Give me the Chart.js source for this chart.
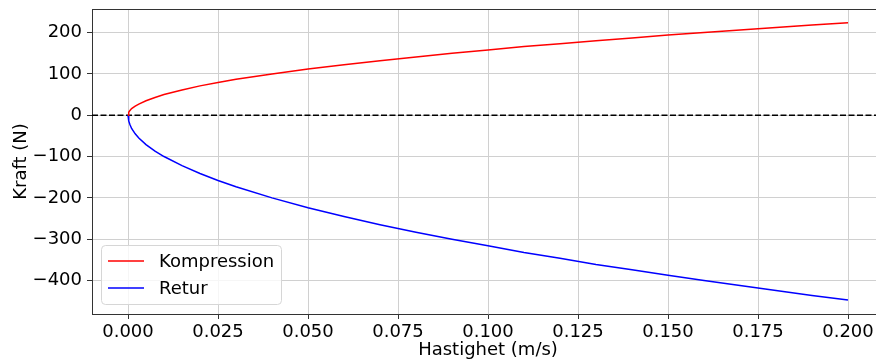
<!DOCTYPE html>
<html>
<head>
<meta charset="utf-8">
<script src="https://cdn.jsdelivr.net/npm/chart.js@4"></script>
<style>
  html, body { margin: 0; padding: 0; background: #fff; overflow: hidden; }
  #wrap { width: 886px; height: 362px; }
</style>
</head>
<body>
<div id="wrap"><canvas id="forceChart" width="886" height="362"></canvas></div>
<script>
// Kraft mot hastighet - kompression och retur

const velocity = [0, 0.0002, 0.0005, 0.001, 0.002, 0.003, 0.005, 0.0075, 0.01, 0.015, 0.02, 0.025, 0.03, 0.04, 0.05,
    0.06, 0.07, 0.08, 0.09, 0.1, 0.11, 0.12, 0.13, 0.14, 0.15, 0.16, 0.17, 0.18, 0.19, 0.2];
const compression = [0, 7, 11, 16, 22, 27, 35, 43, 50, 61, 71, 79, 87, 100, 112,
    122, 132, 141, 150, 158, 166, 173, 180, 187, 194, 200, 206, 212, 218, 224];
const retur = [0, -14, -22, -32, -45, -55, -71, -87, -100, -122, -141, -158, -173, -200, -224,
    -245, -265, -283, -300, -316, -332, -346, -361, -374, -387, -400, -412, -424, -436, -447];

const zeroLineX = [-0.01, 0.21];
const zeroLineY = [0, 0];

const xTicks = [0, 0.025, 0.05, 0.075, 0.1, 0.125, 0.15, 0.175, 0.2];
const yTicks = [-400, -300, -200, -100, 0, 100, 200];

const FONT = { family: 'DejaVu Sans', size: 18 };
const SPINE = '#333333';
const GRID = '#d0d0d0';

function toPoints(xs, ys) {
    return xs.map((x, i) => ({ x: x, y: ys[i] }));
}

// top/right spines
const spinePlugin = {
    id: 'spines',
    afterDraw(chart) {
        const { ctx, chartArea: a } = chart;
        ctx.save();
        ctx.strokeStyle = SPINE;
        ctx.lineWidth = 1;
        ctx.beginPath();
        ctx.moveTo(a.left, a.top + 0.5);
        ctx.lineTo(a.right, a.top + 0.5);
        ctx.moveTo(a.right - 0.5, a.top);
        ctx.lineTo(a.right - 0.5, a.bottom);
        ctx.stroke();
        ctx.restore();
    }
};

// matplotlib style legend in lower left corner
const legendPlugin = {
    id: 'mplLegend',
    afterDraw(chart) {
        const { ctx, chartArea: a } = chart;
        const items = chart.data.datasets.filter(d => d.label);
        const boxX = a.left + 9, boxW = 180, rowH = 27, boxH = 59;
        const boxY = a.bottom - 10 - boxH;
        ctx.save();
        ctx.beginPath();
        ctx.roundRect(boxX + 0.5, boxY + 0.5, boxW, boxH, 4);
        ctx.fillStyle = 'rgba(255,255,255,0.8)';
        ctx.fill();
        ctx.strokeStyle = '#d6d6d6';
        ctx.lineWidth = 1;
        ctx.stroke();
        ctx.font = FONT.size + 'px ' + FONT.family;
        ctx.textBaseline = 'middle';
        items.forEach((d, i) => {
            const y = boxY + 16 + i * rowH;
            ctx.strokeStyle = d.borderColor;
            ctx.lineWidth = 1.5;
            ctx.beginPath();
            ctx.moveTo(boxX + 7, y);
            ctx.lineTo(boxX + 43, y);
            ctx.stroke();
            ctx.fillStyle = '#000';
            ctx.fillText(d.label, boxX + 58, y + 1);
        });
        ctx.restore();
    }
};

new Chart(document.getElementById('forceChart'), {
    type: 'line',
    data: {
        datasets: [
            {
                label: 'Kompression',
                data: toPoints(velocity, compression),
                borderColor: '#ff0000',
                borderWidth: 1.5,
                pointRadius: 0,
                tension: 0
            },
            {
                label: 'Retur',
                data: toPoints(velocity, retur),
                borderColor: '#0000ff',
                borderWidth: 1.5,
                pointRadius: 0,
                tension: 0
            },
            {
                label: '',
                data: toPoints(zeroLineX, zeroLineY),
                borderColor: '#000000',
                borderWidth: 1.6,
                borderDash: [6, 2.5],
                pointRadius: 0
            }
        ]
    },
    options: {
        responsive: false,
        animation: false,
        layout: { padding: { top: 9, right: 2, left: 0, bottom: 0 } },
        plugins: {
            legend: { display: false },
            tooltip: { enabled: false }
        },
        scales: {
            x: {
                type: 'linear',
                min: -0.01,
                max: 0.21,
                afterBuildTicks: axis => { axis.ticks = xTicks.map(v => ({ value: v })); },
                afterFit: axis => { axis.height = 48; axis.paddingLeft = 0; axis.paddingRight = 0; },
                ticks: {
                    font: FONT,
                    color: '#000',
                    padding: 3,
                    maxRotation: 0,
                    callback: v => v.toFixed(3)
                },
                grid: { color: GRID, lineWidth: 1, tickColor: SPINE, tickLength: 5 },
                border: { color: SPINE, width: 1 },
                title: {
                    display: true,
                    text: 'Hastighet (m/s)',
                    font: FONT,
                    color: '#000',
                    padding: { top: 0, bottom: 1 }
                }
            },
            y: {
                type: 'linear',
                min: -481,
                max: 257,
                afterBuildTicks: axis => { axis.ticks = yTicks.map(v => ({ value: v })); },
                afterFit: axis => { axis.width = 92; axis.paddingTop = 0; axis.paddingBottom = 0; },
                ticks: {
                    font: FONT,
                    color: '#000',
                    padding: 5,
                    callback: v => (v < 0 ? '\u2212' + Math.abs(v) : String(v))
                },
                grid: { color: GRID, lineWidth: 1, tickColor: SPINE, tickLength: 5 },
                border: { color: SPINE, width: 1 },
                title: {
                    display: true,
                    text: 'Kraft (N)',
                    font: FONT,
                    color: '#000',
                    padding: { top: 11, bottom: 0 }
                }
            }
        }
    },
    plugins: [spinePlugin, legendPlugin]
});
</script>
</body>
</html>
